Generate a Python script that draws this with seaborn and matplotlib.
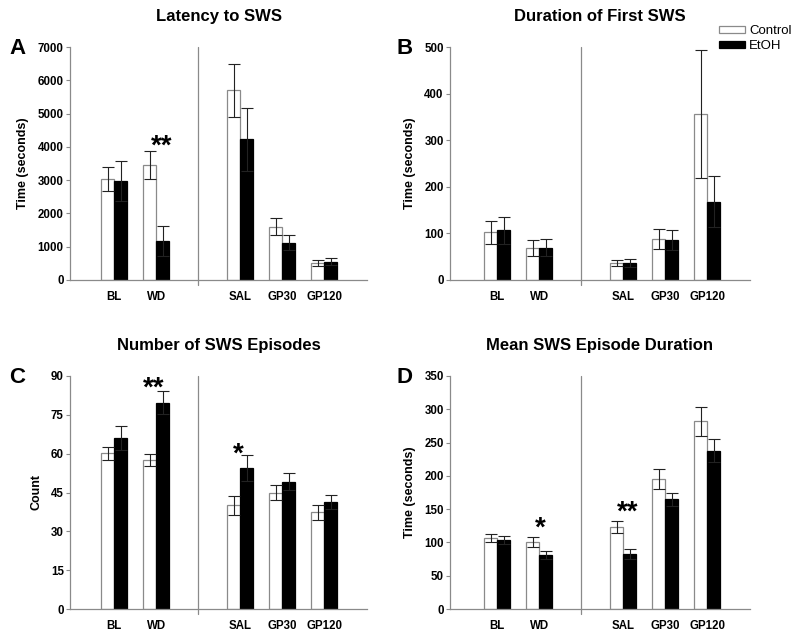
import numpy as np
import pandas as pd
import matplotlib
matplotlib.use("Agg")
import matplotlib.pyplot as plt
import seaborn as sns
from matplotlib.patches import Patch

sns.set_theme(style="white")
plt.rcParams['font.family'] = ['Liberation Sans', 'DejaVu Sans']
plt.rcParams['text.color'] = 'black'
plt.rcParams['axes.labelcolor'] = 'black'
plt.rcParams['axes.titlecolor'] = 'black'
plt.rcParams['xtick.labelcolor'] = 'black'
plt.rcParams['ytick.labelcolor'] = 'black'

# ---------------- data ----------------
categories = ["BL", "WD", "SAL", "GP30", "GP120"]
slot_order = ["BL", "WD", " ", "SAL", "GP30", "GP120"]   # blank slot = separator gap
groups = ["Control", "EtOH"]

lat_ctrl = [3030, 3460, 5700, 1600, 500]
lat_ctrl_sem = [370, 420, 800, 255, 90]
lat_etoh = [2980, 1170, 4230, 1120, 550]
lat_etoh_sem = [600, 460, 950, 220, 100]

dur_ctrl = [102, 69, 36, 88, 356]
dur_ctrl_sem = [24, 17, 6, 22, 138]
dur_etoh = [107, 69, 37, 86, 168]
dur_etoh_sem = [29, 18, 9, 22, 55]

num_ctrl = [60.2, 57.6, 40.1, 45.0, 37.3]
num_ctrl_sem = [2.5, 2.3, 3.7, 2.8, 2.8]
num_etoh = [66.1, 79.7, 54.6, 49.2, 41.4]
num_etoh_sem = [4.5, 4.4, 5.0, 3.2, 2.6]

mean_ctrl = [106.5, 100.5, 123, 195, 282]
mean_ctrl_sem = [6, 7, 8.5, 15, 22]
mean_etoh = [103.5, 81.5, 82.5, 165, 238]
mean_etoh_sem = [6.5, 6, 7, 10, 17]

titles = ["Latency to SWS", "Duration of First SWS",
          "Number of SWS Episodes", "Mean SWS Episode Duration"]
letters = ["A", "B", "C", "D"]
ylabels = ["Time (seconds)", "Time (seconds)", "Count", "Time (seconds)"]
yticks = [np.arange(0, 7001, 1000), np.arange(0, 501, 100),
          np.arange(0, 91, 15), np.arange(0, 351, 50)]

# significance marks: (text, x slot position, y glyph centre)
stars = [
    [("**", 1.14, 4266)],
    [],
    [("**", 0.95, 88.5), ("*", 2.95, 63.3)],
    [("*", 1.02, 133.7), ("**", 3.1, 159)],
]

panels = [
    (lat_ctrl, lat_ctrl_sem, lat_etoh, lat_etoh_sem),
    (dur_ctrl, dur_ctrl_sem, dur_etoh, dur_etoh_sem),
    (num_ctrl, num_ctrl_sem, num_etoh, num_etoh_sem),
    (mean_ctrl, mean_ctrl_sem, mean_etoh, mean_etoh_sem),
]

# ---------------- layout ----------------
fig = plt.figure(figsize=(8, 6.4), dpi=100)
W, H = 800, 640
rects = [(70, 47, 367, 280), (450, 47, 750, 280),
         (70, 376, 367, 609), (450, 376, 750, 609)]
xlims = [(-1.05, 6.02), (-1.12, 6.02), (-1.05, 6.02), (-1.12, 6.02)]
letter_pos = [(9, 54), (397, 54), (9, 383), (397, 383)]

gray = "#8a8a8a"

for i, (ctrl, csem, etoh, esem) in enumerate(panels):
    l, t, r, b = rects[i]
    ax = fig.add_axes([l / W, 1 - b / H, (r - l) / W, (b - t) / H])
    df = pd.DataFrame({
        "cat": categories * 2,
        "group": ["Control"] * 5 + ["EtOH"] * 5,
        "value": list(ctrl) + list(etoh),
    })
    sem_map = {("Control", c): s for c, s in zip(categories, csem)}
    sem_map.update({("EtOH", c): s for c, s in zip(categories, esem)})
    sns.barplot(data=df, x="cat", y="value", hue="group", order=slot_order,
                hue_order=groups, palette={"Control": "white", "EtOH": "black"},
                width=0.62, errorbar=None, legend=False, ax=ax,
                edgecolor="black", linewidth=0.9, zorder=2)
    for g, cont in zip(groups, ax.containers):
        for bar in cont:
            h = bar.get_height()
            if np.isnan(h):
                continue
            xc = bar.get_x() + bar.get_width() / 2
            cat = slot_order[int(round(xc))]
            if g == "Control":
                bar.set_edgecolor(gray)
            ax.errorbar(xc, h, yerr=sem_map[(g, cat)], fmt="none",
                        ecolor="#222222", elinewidth=0.8, capsize=4.3,
                        capthick=0.8, zorder=3)
    ax.set_xlim(*xlims[i])
    ax.set_ylim(yticks[i][0], yticks[i][-1])
    ax.set_yticks(yticks[i])
    ax.set_xlabel("")
    ax.set_ylabel(ylabels[i], fontsize=9, fontweight="bold", labelpad=6)
    ax.set_title(titles[i], fontsize=12, fontweight="bold", pad=19)
    for s in ["top", "right"]:
        ax.spines[s].set_visible(False)
    for s in ["left", "bottom"]:
        ax.spines[s].set_color(gray)
        ax.spines[s].set_linewidth(0.9)
    ax.tick_params(axis="y", direction="out", length=3, width=0.8, color=gray,
                   pad=1.5, labelsize=8.3, left=True, labelcolor="black")
    ax.tick_params(axis="x", length=0, pad=8, labelsize=8.3, labelcolor="black")
    for lab in ax.get_yticklabels() + ax.get_xticklabels():
        lab.set_fontweight("bold")
    ax.axvline(2, ymin=-0.02, ymax=1, color=gray, lw=0.9, clip_on=False, zorder=1)
    for txt, xs, ys in stars[i]:
        ax.annotate(txt, xy=(xs, ys), xytext=(0, -11.6), textcoords="offset points",
                    ha="center", va="baseline", fontsize=20, fontweight="bold",
                    color="black")
    lx, ly = letter_pos[i]
    fig.text(lx / W, 1 - ly / H, letters[i], fontsize=16, fontweight="bold",
             ha="left", va="baseline", color="black")
    if i == 1:
        handles = [Patch(facecolor="white", edgecolor=gray, linewidth=0.9),
                   Patch(facecolor="black", edgecolor="black", linewidth=0.9)]
        ax.legend(handles, groups, loc="upper left",
                  bbox_to_anchor=((719 - l) / (r - l), 1 + (t - 25) / (b - t)),
                  frameon=False, fontsize=9.5, handlelength=2.0, handleheight=0.4,
                  handletextpad=0.3, labelspacing=0.25, borderpad=0,
                  borderaxespad=0)

fig.savefig("out.png", dpi=100)
